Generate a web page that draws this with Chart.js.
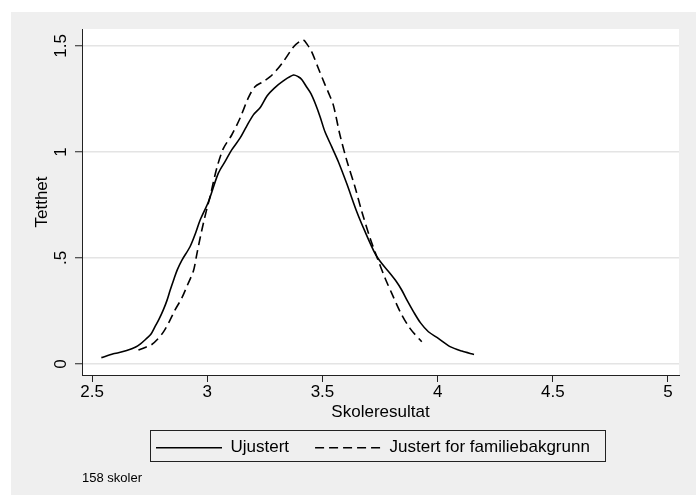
<!DOCTYPE html>
<html>
<head>
<meta charset="utf-8">
<script src="https://cdn.jsdelivr.net/npm/chart.js@4"></script>
<style>
  html, body { margin: 0; padding: 0; background: #fff; }
</style>
</head>
<body>
<canvas id="chart" width="698" height="495"></canvas>
<script>
// density curves
const solidX = [2.540, 2.592, 2.614, 2.650, 2.687, 2.710, 2.737, 2.755, 2.773, 2.790, 2.809, 2.825, 2.839, 2.855, 2.870, 2.890, 2.925, 2.950, 2.969, 3.005, 3.048, 3.080, 3.106, 3.142, 3.170, 3.200, 3.230, 3.260, 3.290, 3.330, 3.374, 3.395, 3.410, 3.432, 3.450, 3.470, 3.490, 3.511, 3.540, 3.569, 3.605, 3.649, 3.685, 3.728, 3.757, 3.793, 3.820, 3.844, 3.870, 3.895, 3.925, 3.960, 4.003, 4.054, 4.105, 4.158];
const solidY = [0.030, 0.048, 0.053, 0.064, 0.079, 0.095, 0.121, 0.140, 0.176, 0.210, 0.255, 0.300, 0.349, 0.400, 0.445, 0.490, 0.553, 0.620, 0.679, 0.765, 0.900, 0.960, 1.010, 1.065, 1.120, 1.175, 1.210, 1.265, 1.300, 1.335, 1.363, 1.355, 1.342, 1.305, 1.275, 1.225, 1.165, 1.095, 1.025, 0.954, 0.852, 0.718, 0.624, 0.522, 0.475, 0.428, 0.390, 0.349, 0.295, 0.247, 0.195, 0.152, 0.121, 0.082, 0.061, 0.045];

const dashX = [2.701, 2.730, 2.759, 2.785, 2.809, 2.835, 2.860, 2.889, 2.915, 2.940, 2.954, 2.970, 2.983, 3.000, 3.012, 3.041, 3.070, 3.106, 3.142, 3.178, 3.207, 3.240, 3.273, 3.300, 3.330, 3.374, 3.400, 3.417, 3.435, 3.453, 3.482, 3.510, 3.526, 3.547, 3.576, 3.605, 3.641, 3.671, 3.707, 3.736, 3.772, 3.801, 3.837, 3.880, 3.931];
const dashY = [0.066, 0.078, 0.092, 0.118, 0.150, 0.200, 0.255, 0.310, 0.375, 0.440, 0.515, 0.600, 0.664, 0.740, 0.789, 0.923, 1.017, 1.080, 1.159, 1.255, 1.308, 1.330, 1.355, 1.385, 1.426, 1.495, 1.520, 1.528, 1.505, 1.473, 1.395, 1.320, 1.280, 1.222, 1.080, 0.962, 0.836, 0.718, 0.593, 0.506, 0.404, 0.333, 0.247, 0.168, 0.105];

const seriesNames = ['Ujustert', 'Justert for familiebakgrunn'];
const xTicks = [2.5, 3, 3.5, 4, 4.5, 5];
const xTickLabels = ['2.5', '3', '3.5', '4', '4.5', '5'];
const yTicks = [0, 0.5, 1, 1.5];
const yTickLabels = ['0', '.5', '1', '1.5'];
const note = '158 skoler';

const toPoints = (xs, ys) => xs.map((x, i) => ({x: x, y: ys[i]}));

Chart.defaults.font.family = "'Liberation Sans', Arial, sans-serif";
Chart.defaults.color = '#000';

// gray backdrop, white plot area, rotated y labels, legend frame
const stataLook = {
    id: 'stataLook',
    beforeDraw(chart) {
        const {ctx, chartArea: a} = chart;
        ctx.save();
        ctx.fillStyle = '#efefef';
        ctx.fillRect(11, 12, 685, 483);
        ctx.fillStyle = '#fff';
        ctx.fillRect(a.left, a.top, a.right - a.left, a.bottom - a.top);
        ctx.restore();
    },
    afterLayout(chart) {
        const lg = chart.legend;
        const p = lg.options.labels.padding;
        // move legend row so the first sample starts where it does in the picture
        const startX = (lg.left + p + lg.right - lg.lineWidths[0]) / 2;
        const dx = 156 - startX;
        lg.left += dx; lg.right += dx;
        const dy = 447.7 - (lg.top + p + 8.5);
        lg.top += dy; lg.bottom += dy;
        const st = chart.boxes.find(b => b !== lg && b.options && b.options.text === note);
        if (st) {
            const dy2 = 478 - (st.top + 7.8);
            st.top += dy2; st.bottom += dy2;
        }
    },
    afterDraw(chart) {
        const {ctx} = chart;
        const ys = chart.scales.y;
        ctx.save();
        ctx.font = "17px 'Liberation Sans', Arial, sans-serif";
        ctx.fillStyle = '#000';
        ctx.textAlign = 'center';
        ctx.textBaseline = 'middle';
        yTicks.forEach((v, i) => {
            ctx.save();
            ctx.translate(61, ys.getPixelForValue(v));
            ctx.rotate(-Math.PI / 2);
            ctx.fillText(yTickLabels[i], 0, 0);
            ctx.restore();
        });
        // frame round the legend
        const lg = chart.legend;
        const p = lg.options.labels.padding;
        const startX = (lg.left + p + lg.right - lg.lineWidths[0]) / 2;
        const endX = startX + lg.lineWidths[0] - p;
        ctx.strokeStyle = '#222';
        ctx.lineWidth = 1;
        ctx.strokeRect(Math.round(startX - 6) + 0.5, 430.5, Math.round(endX - startX + 21), 31);
        ctx.restore();
    }
};

const ctx = document.getElementById('chart').getContext('2d');
const myChart = new Chart(ctx, {
    type: 'line',
    data: {
        datasets: [{
            label: seriesNames[0],
            data: toPoints(solidX, solidY),
            borderColor: '#000',
            borderWidth: 1.6,
            pointRadius: 0,
            tension: 0.3,
            fill: false
        }, {
            label: seriesNames[1],
            data: toPoints(dashX, dashY),
            borderColor: '#000',
            borderWidth: 1.6,
            borderDash: [9, 5],
            pointRadius: 0,
            tension: 0.3,
            fill: false
        }]
    },
    options: {
        responsive: false,
        animation: false,
        devicePixelRatio: 1,
        layout: {
            padding: {left: 10, right: 19, top: 29, bottom: 3.6}
        },
        scales: {
            x: {
                type: 'linear',
                min: 2.456,
                max: 5.048,
                afterBuildTicks: (scale) => { scale.ticks = xTicks.map(v => ({value: v})); },
                ticks: {
                    autoSkip: false,
                    maxRotation: 0,
                    padding: 0,
                    font: {size: 17},
                    color: '#000',
                    callback: (value, index) => xTickLabels[index]
                },
                grid: {
                    drawOnChartArea: false,
                    tickLength: 7,
                    tickColor: '#222',
                    tickWidth: 1
                },
                border: {color: '#222', width: 1},
                title: {
                    display: true,
                    text: 'Skoleresultat',
                    font: {size: 17},
                    color: '#000',
                    padding: {top: 0, bottom: 0}
                }
            },
            y: {
                type: 'linear',
                min: -0.052,
                max: 1.58,
                afterBuildTicks: (scale) => { scale.ticks = yTicks.map(v => ({value: v})); },
                afterFit: (scale) => { scale.width = 72; },
                ticks: {display: false},
                grid: {
                    color: '#e4e4e4',
                    lineWidth: 1.5,
                    tickLength: 7,
                    tickColor: '#222',
                    tickWidth: 1
                },
                border: {color: '#222', width: 1},
                title: {
                    display: true,
                    text: 'Tetthet',
                    font: {size: 17},
                    color: '#000',
                    padding: {top: 22, bottom: 0}
                }
            }
        },
        plugins: {
            legend: {
                display: true,
                position: 'bottom',
                fullSize: false,
                labels: {
                    usePointStyle: true,
                    pointStyle: 'line',
                    pointStyleWidth: 66,
                    boxWidth: 66,
                    padding: 26,
                    font: {size: 17},
                    color: '#000',
                    // point style loses the dataset dash, put it back
                    generateLabels: (chart) => Chart.defaults.plugins.legend.labels.generateLabels(chart)
                        .map(item => Object.assign(item, {
                            lineDash: chart.data.datasets[item.datasetIndex].borderDash || [],
                            lineWidth: 1.6
                        }))
                }
            },
            subtitle: {
                display: true,
                text: note,
                position: 'bottom',
                align: 'start',
                fullSize: false,
                font: {size: 13, weight: 'normal'},
                color: '#000',
                padding: 0
            },
            tooltip: {enabled: false}
        }
    },
    plugins: [stataLook]
});
</script>
</body>
</html>
